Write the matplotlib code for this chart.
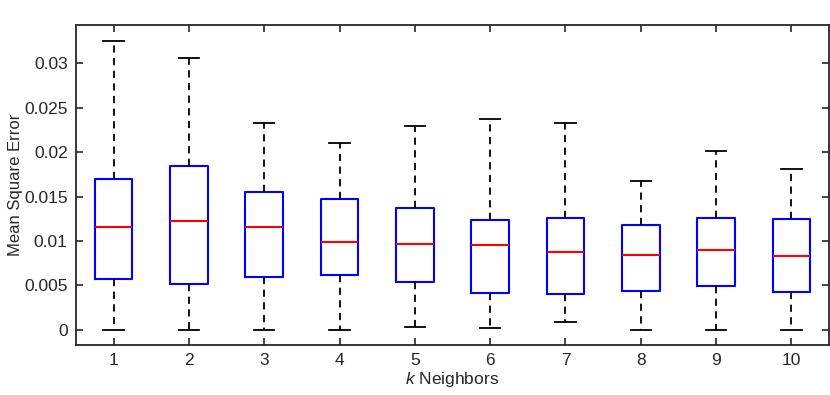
import matplotlib
matplotlib.use("Agg")
import matplotlib.pyplot as plt

plt.rcParams['font.family'] = ['Liberation Sans', 'DejaVu Sans']
plt.rcParams['mathtext.fontset'] = 'custom'
plt.rcParams['mathtext.it'] = 'Liberation Sans:italic'
plt.rcParams['mathtext.rm'] = 'Liberation Sans'

k_labels = ["1", "2", "3", "4", "5", "6", "7", "8", "9", "10"]
whisker_low = [0.0, 0.0, 0.0, 0.0, 0.0003, 0.00022, 0.00086, 0.0, 0.0, 0.0]
q1 = [0.00573, 0.0052, 0.00599, 0.00622, 0.00536, 0.00412, 0.00404, 0.00442, 0.00498, 0.00427]
median = [0.01154, 0.01225, 0.0116, 0.00985, 0.00963, 0.00955, 0.0088, 0.00846, 0.00895, 0.00831]
q3 = [0.01702, 0.01846, 0.0155, 0.01472, 0.01375, 0.01232, 0.01262, 0.0118, 0.01262, 0.01247]
whisker_high = [0.0325, 0.03064, 0.02333, 0.02097, 0.02292, 0.02367, 0.0233, 0.01674, 0.02011, 0.01809]
y_ticks = [0, 0.005, 0.01, 0.015, 0.02, 0.025, 0.03]
y_tick_labels = ["0", "0.005", "0.01", "0.015", "0.02", "0.025", "0.03"]

stats = []
for i, lab in enumerate(k_labels):
    stats.append(dict(label=lab, whislo=whisker_low[i], q1=q1[i], med=median[i],
                      q3=q3[i], whishi=whisker_high[i], fliers=[]))

fig = plt.figure(figsize=(8.3, 3.95), dpi=100)
ax = fig.add_axes([76/830, 50/395, (829-76)/830, (345-25)/395])

ax.bxp(stats, positions=range(1, 11), widths=0.5, capwidths=0.27, showfliers=False,
       boxprops=dict(color='#0000ff', linewidth=1.5),
       medianprops=dict(color='#ff0000', linewidth=1.5),
       whiskerprops=dict(color='black', linewidth=1.3, linestyle=(0, (4, 3))),
       capprops=dict(color='black', linewidth=1.3))

ax.set_xlim(0.5, 10.5)
ax.set_ylim(-0.0017, 0.0343)
ax.set_yticks(y_ticks)
ax.set_yticklabels(y_tick_labels)
ax.set_xticks(range(1, 11))
ax.set_xticklabels(k_labels)
ax.tick_params(direction='in', top=True, right=True, length=5, width=1.2,
               labelsize=12.5, colors='#262626', pad=6)
for s in ax.spines.values():
    s.set_linewidth(1.3)
    s.set_color('#262626')
ax.set_ylabel("Mean Square Error", fontsize=12, color='#262626', labelpad=1)
ax.set_xlabel(r"$\mathit{k}$ Neighbors", fontsize=12.5, color='#262626', labelpad=1)

fig.savefig("out.png", dpi=100)
